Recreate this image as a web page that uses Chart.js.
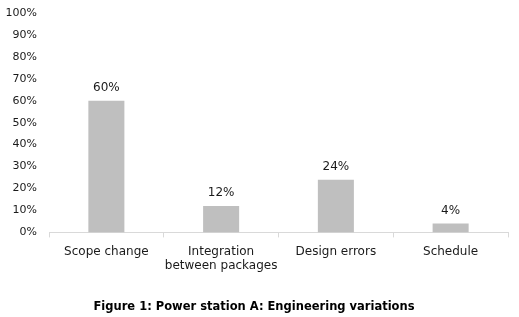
<!DOCTYPE html>
<html><head><meta charset="utf-8">
<script src="https://cdn.jsdelivr.net/npm/chart.js@4"></script>
<style>html,body{margin:0;padding:0;background:#fff}#wrap{width:519px;height:317px}</style>
</head><body><div id="wrap"><canvas id="c" width="519" height="317"></canvas></div>
<script>
const categories = ['Scope change', ['Integration', 'between packages'], 'Design errors', 'Schedule'];
const values = [60, 12, 24, 4];
const yTicks = [0, 10, 20, 30, 40, 50, 60, 70, 80, 90, 100];
const caption = 'Figure 1: Power station A: Engineering variations';

const FONT = "'DejaVu Sans', sans-serif";
const valueLabels = {
  id: 'valueLabels',
  afterDatasetsDraw(chart) {
    const ctx = chart.ctx;
    const meta = chart.getDatasetMeta(0);
    ctx.save();
    ctx.font = '12px ' + FONT;
    ctx.fillStyle = '#1a1a1a';
    ctx.textAlign = 'center';
    ctx.textBaseline = 'bottom';
    meta.data.forEach((bar, i) => {
      ctx.fillText(values[i] + '%', bar.x, bar.y - 7);
    });
    ctx.restore();
  }
};

new Chart(document.getElementById('c'), {
  type: 'bar',
  data: {
    labels: categories,
    datasets: [{ data: values, backgroundColor: '#bfbfbf', borderWidth: 0,
      categoryPercentage: 1, barPercentage: 0.314 }]
  },
  options: {
    responsive: false,
    animation: false,
    devicePixelRatio: 1,
    layout: { padding: { left: 0, right: 11, top: 13, bottom: 3 } },
    plugins: {
      legend: { display: false },
      tooltip: { enabled: false },
      title: { display: true, position: 'bottom', text: caption, color: '#000',
        font: { family: FONT, size: 11.5, weight: 'bold' }, padding: { top: 20, bottom: 0 } }
    },
    scales: {
      x: {
        grid: { display: true, drawOnChartArea: false, drawTicks: true, tickLength: 5, color: '#d9d9d9', offset: true },
        border: { display: true, color: '#d9d9d9' },
        ticks: { color: '#1a1a1a', font: { family: FONT, size: 12 }, padding: 7, maxRotation: 0, autoSkip: false }
      },
      y: {
        min: 0, max: 100,
        afterBuildTicks(axis) { axis.ticks = yTicks.map(v => ({ value: v })); },
        afterFit(axis) { axis.width = 49; axis.paddingTop = 0; axis.paddingBottom = 0; },
        grid: { display: false, drawTicks: false },
        border: { display: false },
        ticks: { color: '#1a1a1a', font: { family: FONT, size: 11 }, padding: 12,
          callback: v => v + '%' }
      }
    }
  },
  plugins: [valueLabels]
});
</script></body></html>
